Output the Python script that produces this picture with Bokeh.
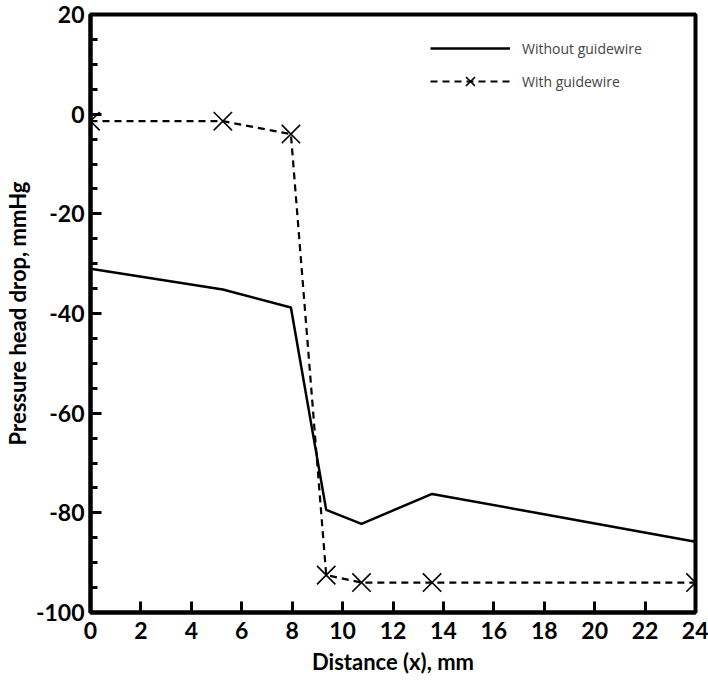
from bokeh.plotting import figure
from bokeh.models import Range1d, SingleIntervalTicker, Legend, LegendItem, PrintfTickFormatter
from bokeh.embed import file_html
from bokeh.resources import INLINE

# Data
x_pos = [0, 5.25, 7.95, 9.35, 10.75, 13.55, 24]
without_guidewire = [-31, -35.2, -38.8, -79.4, -82.2, -76.2, -85.8]
with_guidewire = [-1.4, -1.4, -4.0, -92.5, -94.0, -94.0, -94.0]

FONT = "Lato"
W, H = 708, 687
LEFT, TOP, RIGHT, BOTTOM = 82, 14, 13, 75

p = figure(width=W, height=H, output_backend="svg", toolbar_location=None,
           x_range=Range1d(0, 24), y_range=Range1d(-100, 20),
           min_border_left=LEFT, min_border_top=TOP, min_border_right=RIGHT,
           min_border_bottom=BOTTOM)

p.grid.visible = False
p.background_fill_color = "white"
p.border_fill_color = "white"
p.outline_line_color = "black"
p.outline_line_width = 4

p.xaxis.ticker = SingleIntervalTicker(interval=2, num_minor_ticks=2)
p.yaxis.ticker = SingleIntervalTicker(interval=20, num_minor_ticks=4)
p.xaxis.formatter = PrintfTickFormatter(format="%d")
p.yaxis.formatter = PrintfTickFormatter(format="%d")

for ax in (p.xaxis[0], p.yaxis[0]):
    ax.axis_line_width = 4
    ax.axis_line_color = "black"
    ax.major_tick_in = 11
    ax.major_tick_out = 0
    ax.major_tick_line_width = 3
    ax.minor_tick_in = 7
    ax.minor_tick_out = 0
    ax.minor_tick_line_width = 3
    ax.major_label_text_font = FONT
    ax.major_label_text_font_style = "bold"
    ax.major_label_text_font_size = "23px"
    ax.major_label_text_color = "black"
    ax.axis_label_text_font = FONT
    ax.axis_label_text_font_style = "bold"
    ax.axis_label_text_font_size = "22px"
    ax.axis_label_text_color = "black"

p.xaxis.minor_tick_line_color = None
p.xaxis.major_label_standoff = 9
p.yaxis.major_label_standoff = 6
p.xaxis.axis_label = "Distance (x), mm"
p.yaxis.axis_label = "Pressure head drop, mmHg"
p.xaxis.axis_label_standoff = 6
p.yaxis.axis_label_standoff = 2

r1 = p.line(x_pos, without_guidewire, line_color="black", line_width=2.5)
r2 = p.line(x_pos, with_guidewire, line_color="black", line_width=2.2, line_dash="7 5")
r3 = p.scatter(x_pos, with_guidewire, marker="x", size=26, line_color="black", line_width=1.6)

legend = Legend(items=[LegendItem(label="Without guidewire", renderers=[r1]),
                       LegendItem(label="With guidewire", renderers=[r2, r3])],
                location=(340, 515), border_line_color=None, background_fill_alpha=0,
                glyph_width=80, glyph_height=32, label_standoff=12, spacing=1,
                padding=8,
                label_text_font="Open Sans", label_text_font_size="14px")
p.add_layout(legend)

open("out.html", "w").write(file_html(p, INLINE))
